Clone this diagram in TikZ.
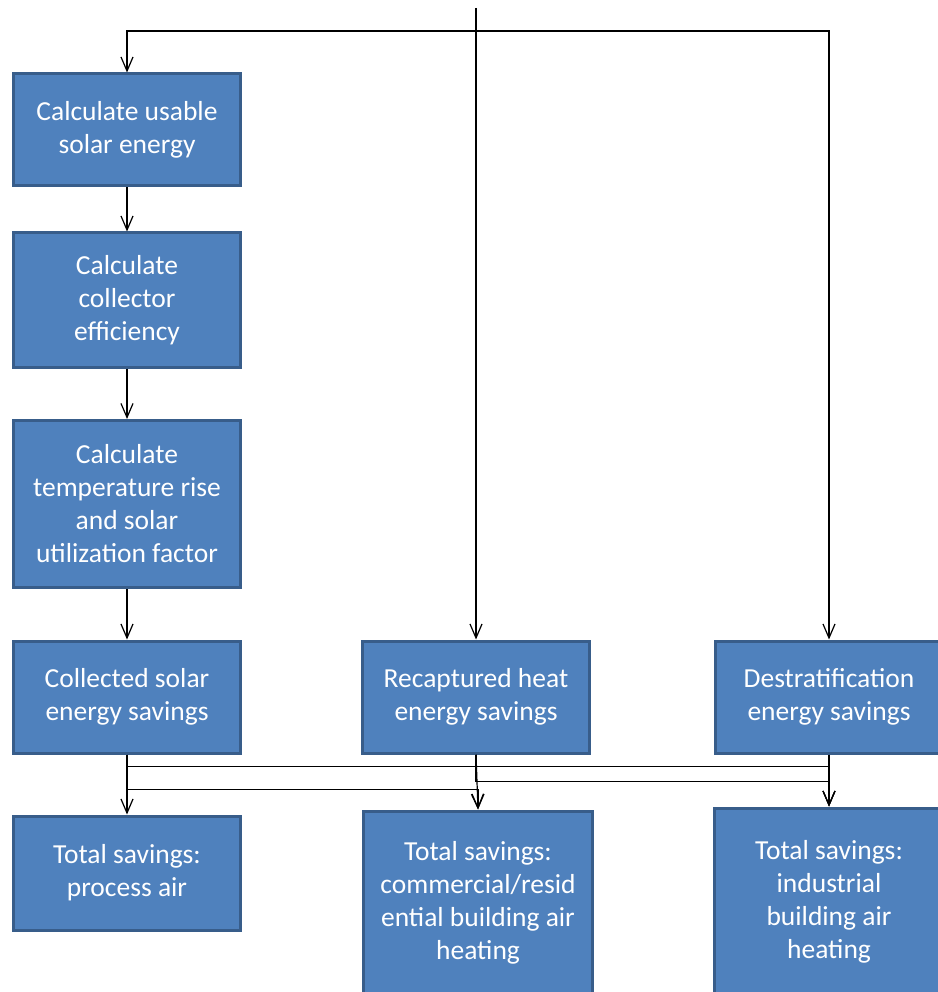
\documentclass[tikz,border=0pt]{standalone}
\usepackage{fontspec}
\setmainfont{Carlito}
\usetikzlibrary{positioning}
\usetikzlibrary{arrows.meta}
\definecolor{boxblue}{HTML}{4F81BD}
\definecolor{boxedge}{HTML}{385D8A}
\tikzset{
  stepbox/.style={draw=boxedge, fill=boxblue, line width=3pt, text=white,
    minimum width=227pt, inner sep=0pt, align=center,
    font=\fontsize{27.5}{33}\selectfont},
  flow/.style={draw=black, line width=1.2pt, -{Straight Barb[length=14pt,width=12pt]}},
}

\begin{document}
\begin{tikzpicture}[x=1pt,y=-1pt]
	%% frame of the picture
	\useasboundingbox (0,0) rectangle (937,992);

	\def\colA{127} % left column
	\def\colB{476} % middle column
	\def\colC{829} % right column

	% left chain
	\node[stepbox, minimum height=112pt] (usable) at (\colA,130) {Calculate usable\\solar energy};
	\node[stepbox, minimum height=134pt] (effic) at (\colA,300) {Calculate\\collector\\efficiency};
	\node[stepbox, minimum height=167pt] (rise) at (\colA,504) {Calculate\\temperature rise\\and solar\\utilization factor};

	% savings row
	\node[stepbox, minimum height=112pt] (solar) at (\colA,697) {Collected solar\\energy savings};
	\node[stepbox, minimum height=112pt] (recap) at (\colB,697) {Recaptured heat\\energy savings};
	\node[stepbox, minimum height=112pt] (destrat) at (\colC,697) {Destratification\\energy savings};

	% totals row
	\node[stepbox, minimum height=114pt] (process) at (\colA,873) {Total savings:\\process air};
	\node[stepbox, minimum width=229pt, minimum height=184pt] (commercial) at (478,903) {Total savings:\\commercial/resid\\ential building air\\heating};
	\node[stepbox, minimum width=229pt, minimum height=188pt] (industrial) at (\colC,902) {Total savings:\\industrial\\building air\\heating};

	% input from above
	\coordinate (input) at (\colB,8);
	\coordinate (split) at (\colB,31);
	\draw[flow] (input) -- (recap.north);
	\draw[flow] (split) -| (usable.north);
	\draw[flow] (split) -| (destrat.north);

	\draw[flow] (usable) -- (effic);
	\draw[flow] (effic) -- (rise);
	\draw[flow] (rise) -- (solar);

	% to the totals
	\draw[flow] (solar.south) -- (process.north);
	\draw[flow] (solar.south) -- ++(0,12) -| (industrial.north);
	\draw[flow] (solar.south) -- ++(0,35) -| (commercial.north);
	\draw[flow] (recap.south) -- (commercial.north);
	\draw[flow] (recap.south) -- ++(0,27) -| (industrial.north);
	\draw[flow] (destrat.south) -- (industrial.north);
\end{tikzpicture}
\end{document}
